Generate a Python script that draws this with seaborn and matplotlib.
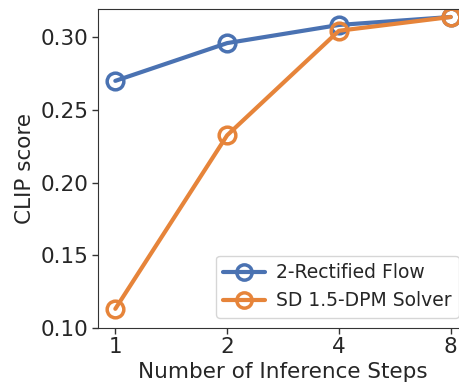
import matplotlib
matplotlib.use("Agg")
import matplotlib.pyplot as plt
import seaborn as sns
import pandas as pd
from matplotlib.lines import Line2D

steps = [1, 2, 4, 8]
rectified_flow = [0.270, 0.296, 0.3085, 0.314]
sd_dpm_solver = [0.113, 0.2325, 0.3045, 0.314]
series_names = ["2-Rectified Flow", "SD 1.5-DPM Solver"]
colors = ["#4A72B2", "#E6843A"]

df = pd.concat([
    pd.DataFrame({"steps": steps, "score": rectified_flow, "method": series_names[0]}),
    pd.DataFrame({"steps": steps, "score": sd_dpm_solver, "method": series_names[1]}),
])

sns.set_style("ticks")
plt.rcParams["font.family"] = ["DejaVu Sans"]

fig = plt.figure(figsize=(4.59, 3.84), dpi=100)
ax = fig.add_axes([0.2135, 0.1466, 0.805, 0.830])

sns.lineplot(data=df, x="steps", y="score", hue="method", palette=colors,
             marker="o", markersize=12, markerfacecolor="none",
             markeredgewidth=2.5, linewidth=3, ax=ax, legend=False)
# open circle markers take the line colour
for line, c in zip(ax.lines, colors):
    line.set_markeredgecolor(c)
    line.set_markerfacecolor("none")

ax.set_xscale("log", base=2)
ax.set_xticks(steps)
ax.set_xticklabels([str(s) for s in steps])
ax.minorticks_off()
ax.set_xlim(2 ** -0.155, 2 ** 3.15)
ax.set_ylim(0.10, 0.3195)
ax.set_yticks([0.10, 0.15, 0.20, 0.25, 0.30])
ax.set_yticklabels(["0.10", "0.15", "0.20", "0.25", "0.30"])
ax.tick_params(labelsize=15.5, length=4, width=1, color="#333333", pad=3)
for s in ax.spines.values():
    s.set_color("#333333")
ax.set_xlabel("Number of Inference Steps", fontsize=15.5, labelpad=3)
ax.set_ylabel("CLIP score", fontsize=15.5, labelpad=4)

handles = [Line2D([], [], color=c, marker="o", markersize=11, markerfacecolor="none",
                  markeredgewidth=2.5, linewidth=3) for c in colors]
fig.legend(handles, series_names, loc="lower right", bbox_to_anchor=(1.0, 0.172),
           fontsize=13.5, frameon=True, handlelength=2.2, borderpad=0.4,
           labelspacing=0.5, handletextpad=0.6, borderaxespad=0.0)

fig.savefig("out.png", dpi=100)
